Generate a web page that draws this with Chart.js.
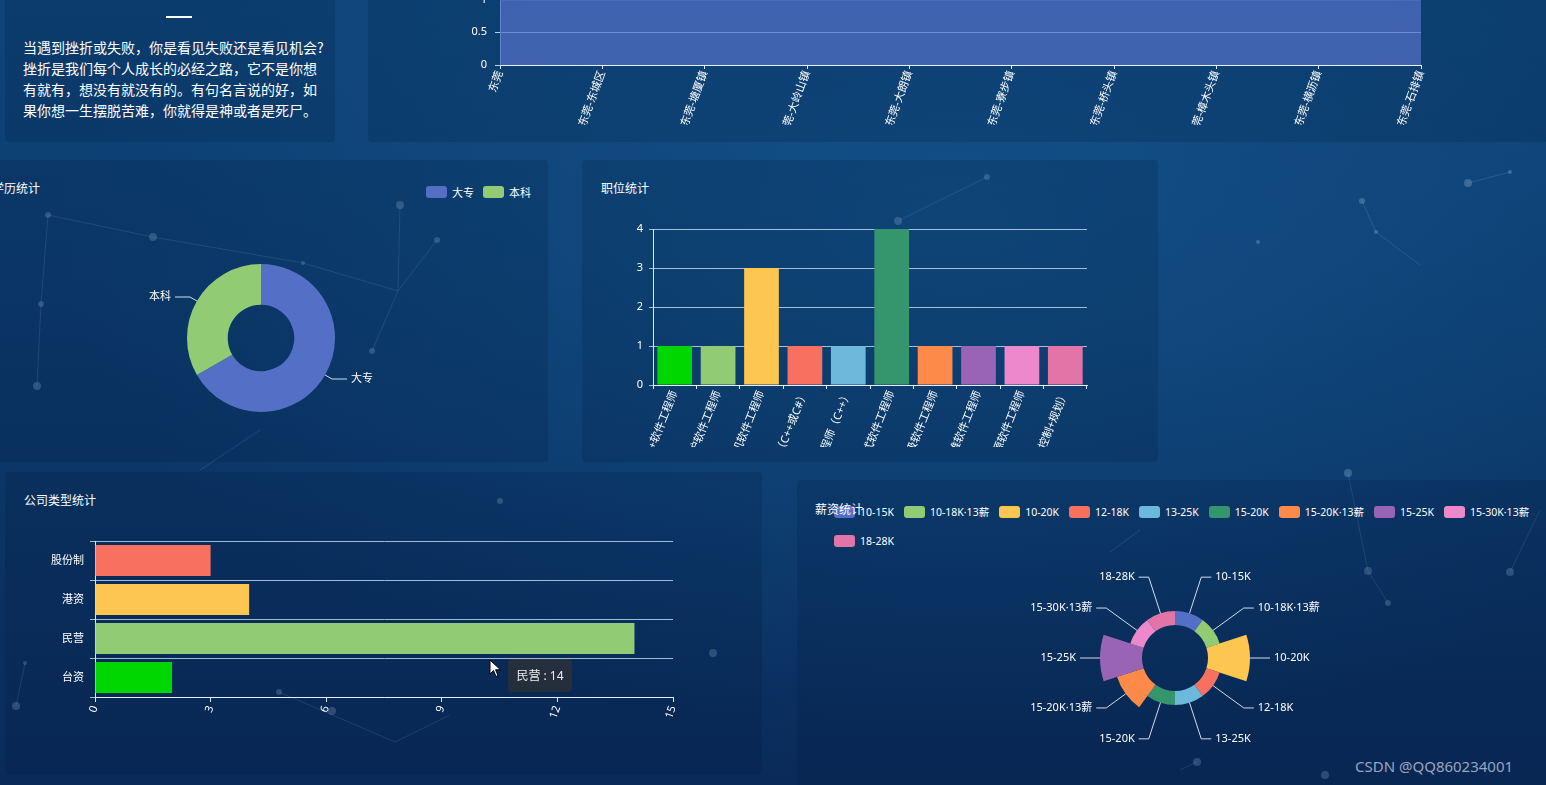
<!DOCTYPE html>
<html lang="zh-CN">
<head>
<meta charset="utf-8">
<title>招聘数据统计</title>
<script src="https://cdn.jsdelivr.net/npm/chart.js@4.4.1/dist/chart.umd.min.js"></script>
<style>
    html, body {
        margin: 0;
        padding: 0;
        width: 1546px;
        height: 785px;
        overflow: hidden;
    }
    body {
        position: relative;
        color: #fff;
        font-family: "Noto Sans", "Noto Sans CJK SC", sans-serif;
        background:
            radial-gradient(ellipse 900px 520px at 62% 28%, rgba(22, 92, 150, 0.55), rgba(22, 92, 150, 0) 100%),
            linear-gradient(180deg, #0e4479 0%, #0c3a6c 45%, #0a2b5a 100%);
    }
    .deco {
        position: absolute;
        left: 0;
        top: 0;
    }
    .panel {
        position: absolute;
        background: rgba(2, 18, 52, 0.16);
        border-radius: 4px;
    }
    .title {
        position: absolute;
        font-size: 12px;
        line-height: 16px;
        white-space: nowrap;
    }
    canvas {
        position: absolute;
    }
    .quote {
        position: absolute;
        left: 23px;
        top: 37px;
        font-family: "Noto Sans CJK SC", sans-serif;
        font-size: 14px;
        line-height: 21px;
        white-space: nowrap;
    }
    .quote-bar {
        position: absolute;
        left: 166px;
        top: 16px;
        width: 26px;
        height: 2px;
        background: #fff;
    }
    .legend {
        position: absolute;
        display: flex;
        flex-wrap: wrap;
        font-size: 11px;
    }
    .legend.narrow {
        font-size: 10.5px;
    }
    .lg-item {
        display: flex;
        align-items: center;
        height: 29px;
        margin-right: 10px;
        white-space: nowrap;
    }
    .lg-item i {
        display: inline-block;
        width: 21px;
        height: 12px;
        border-radius: 3px;
        margin-right: 5px;
    }
    .tip {
        position: absolute;
        left: 508px;
        top: 659px;
        width: 64px;
        height: 33px;
        line-height: 33px;
        text-align: center;
        font-size: 12px;
        color: #eee;
        background: rgba(50, 50, 50, 0.7);
        border-radius: 4px;
    }
    .cursor {
        position: absolute;
        left: 489px;
        top: 659px;
    }
    .watermark {
        position: absolute;
        left: 1355px;
        top: 756px;
        font-size: 15px;
        line-height: 20px;
        color: rgba(200, 210, 225, 0.75);
        white-space: nowrap;
    }
</style>
</head>
<body>

<!-- faint particle network in the backdrop -->
<svg class="deco" width="1546" height="785">
    <g stroke="rgba(150,190,230,0.18)" stroke-width="1">
        <line x1="48" y1="215" x2="153" y2="237"/>
        <line x1="153" y1="237" x2="303" y2="263"/>
        <line x1="41" y1="304" x2="37" y2="386"/>
        <line x1="48" y1="215" x2="41" y2="304"/>
        <line x1="400" y1="205" x2="398" y2="291"/>
        <line x1="398" y1="291" x2="372" y2="351"/>
        <line x1="303" y1="263" x2="398" y2="291"/>
        <line x1="437" y1="240" x2="398" y2="291"/>
        <line x1="1468" y1="183" x2="1510" y2="172"/>
        <line x1="1362" y1="201" x2="1376" y2="232"/>
        <line x1="1376" y1="232" x2="1420" y2="265"/>
        <line x1="987" y1="177" x2="898" y2="221"/>
        <line x1="1348" y1="473" x2="1368" y2="571"/>
        <line x1="1368" y1="571" x2="1388" y2="603"/>
        <line x1="1510" y1="572" x2="1540" y2="510"/>
        <line x1="279" y1="692" x2="395" y2="742"/>
        <line x1="395" y1="742" x2="450" y2="715"/>
        <line x1="16" y1="706" x2="25" y2="663"/>
        <line x1="200" y1="470" x2="260" y2="430"/>
        <line x1="1110" y1="552" x2="1140" y2="530"/>
        <line x1="1180" y1="770" x2="1197" y2="762"/>
    </g>
    <g fill="rgba(170,200,235,0.28)">
        <circle cx="48" cy="215" r="3"/>
        <circle cx="153" cy="237" r="4"/>
        <circle cx="41" cy="304" r="3"/>
        <circle cx="37" cy="386" r="4"/>
        <circle cx="400" cy="205" r="4"/>
        <circle cx="437" cy="240" r="3"/>
        <circle cx="372" cy="351" r="3"/>
        <circle cx="303" cy="263" r="2"/>
        <circle cx="1468" cy="183" r="4"/>
        <circle cx="1510" cy="172" r="2"/>
        <circle cx="1362" cy="201" r="3"/>
        <circle cx="1376" cy="232" r="2"/>
        <circle cx="1258" cy="242" r="2"/>
        <circle cx="987" cy="177" r="3"/>
        <circle cx="898" cy="221" r="4"/>
        <circle cx="1348" cy="473" r="4"/>
        <circle cx="1368" cy="571" r="4"/>
        <circle cx="1388" cy="603" r="3"/>
        <circle cx="1510" cy="572" r="4"/>
        <circle cx="1197" cy="762" r="4"/>
        <circle cx="500" cy="501" r="3"/>
        <circle cx="713" cy="653" r="4"/>
        <circle cx="332" cy="711" r="4"/>
        <circle cx="279" cy="692" r="3"/>
        <circle cx="16" cy="706" r="4"/>
        <circle cx="25" cy="663" r="2"/>
        <circle cx="1325" cy="775" r="4"/>
    </g>
</svg>

<!-- panels -->
<div class="panel" style="left:5px; top:-10px; width:330px; height:152px;"></div>
<div class="panel" style="left:368px; top:-10px; width:1190px; height:152px;"></div>
<div class="panel" style="left:-25px; top:160px; width:573px; height:302px;"></div>
<div class="panel" style="left:582px; top:160px; width:576px; height:302px;"></div>
<div class="panel" style="left:5px; top:472px; width:757px; height:303px;"></div>
<div class="panel" style="left:797px; top:480px; width:760px; height:310px;"></div>

<!-- quote -->
<div class="quote-bar"></div>
<div class="quote">
    当遇到挫折或失败，你是看见失败还是看见机会?<br>
    挫折是我们每个人成长的必经之路，它不是你想<br>
    有就有，想没有就没有的。有句名言说的好，如<br>
    果你想一生摆脱苦难，你就得是神或者是死尸。
</div>

<canvas id="areaChart" width="981" height="140" style="left:460px; top:-15px;"></canvas>

<div class="title" style="left:-8px; top:181px;">学历统计</div>
<div class="legend" id="eduLegend" style="left:426px; top:177px;"></div>
<canvas id="eduChart" width="300" height="200" style="left:111px; top:238px;"></canvas>

<div class="title" style="left:601px; top:181px;">职位统计</div>
<canvas id="jobChart" width="500" height="247" style="left:600px; top:200px;"></canvas>

<div class="title" style="left:24px; top:493px;">公司类型统计</div>
<canvas id="companyChart" width="673" height="239" style="left:20px; top:521px;"></canvas>
<div class="tip" id="companyTip"></div>
<svg class="cursor" width="14" height="20">
    <polygon points="1,1 1,15 4.5,11.5 7,17.5 9,16.6 6.6,10.8 11.5,10.8" fill="#fff" stroke="#000" stroke-width="1"/>
</svg>

<div class="legend narrow" id="salaryLegend" style="left:834px; top:497px; width:745px;"></div>
<div class="title" style="left:815px; top:502px;">薪资统计</div>
<canvas id="salaryChart" width="350" height="200" style="left:1000px; top:558px;"></canvas>

<div class="watermark">CSDN @QQ860234001</div>

<script>
// ---------- data ----------
var areaNames = ['东莞', '东莞-东城区', '东莞-塘厦镇', '东莞-大岭山镇', '东莞-大朗镇',
                 '东莞-寮步镇', '东莞-桥头镇', '东莞-樟木头镇', '东莞-横沥镇', '东莞-石排镇'];
var areaCounts = [1, 1, 1, 1, 1, 1, 1, 1, 1, 1];
var areaTicks = [0, 0.5, 1];

var eduNames = ['大专', '本科'];
var eduCounts = [2, 1];

var jobNames = ['+软件工程师', '护软件工程师', '机软件工程师', '（C++或C#）', '程师（C++）',
                '式软件工程师', '级软件工程师', '维软件工程师', '源软件工程师', '控制+规划）'];
var jobCounts = [1, 1, 3, 1, 1, 4, 1, 1, 1, 1];
var jobTicks = [0, 1, 2, 3, 4];

var companyTypes = ['台资', '民营', '港资', '股份制'];
var companyCounts = [2, 14, 4, 3];
var companyTicks = [0, 3, 6, 9, 12, 15];
var hoverIndex = 1;

var salaryRanges = ['10-15K', '10-18K·13薪', '10-20K', '12-18K', '13-25K',
                    '15-20K', '15-20K·13薪', '15-25K', '15-30K·13薪', '18-28K'];
var salaryCounts = [1, 1, 3, 1, 1, 1, 2, 3, 1, 1];

var palette = ['#00d600', '#91cc75', '#fcc650', '#f87060', '#6cb9dc',
               '#35956c', '#fd8a48', '#9a64b4', '#ee88cc', '#e274a8'];
var blue = '#5470c6';

// ---------- defaults ----------
var fontStack = '"Noto Sans", "Noto Sans CJK SC", sans-serif';
Chart.defaults.color = '#fff';
Chart.defaults.font.family = fontStack;
Chart.defaults.font.size = 11;
Chart.defaults.animation = false;
Chart.defaults.plugins.legend.display = false;
Chart.defaults.plugins.tooltip.enabled = false;

var axisWhite = 'rgba(235, 242, 255, 0.95)';
var gridWhite = 'rgba(200, 222, 245, 0.8)';

function fixedTicks(values) {
    return function(scale) {
        scale.ticks = values.map(function(v) { return { value: v }; });
    };
}

function plainNumber(value) {
    return String(value);
}

// html legend built from the chart's own legend items
var htmlLegend = {
    id: 'htmlLegend',
    afterUpdate: function(chart, args, opts) {
        var box = document.getElementById(opts.containerID);
        if (!box) return;
        box.innerHTML = '';
        var items = chart.options.plugins.legend.labels.generateLabels(chart);
        items.forEach(function(item) {
            var li = document.createElement('span');
            li.className = 'lg-item';
            if (opts.gap !== undefined) li.style.marginRight = opts.gap + 'px';
            var sw = document.createElement('i');
            sw.style.background = item.fillStyle;
            var tx = document.createElement('span');
            tx.textContent = item.text;
            li.appendChild(sw);
            li.appendChild(tx);
            box.appendChild(li);
        });
    }
};

// label + leader line outside each slice
var sliceLabels = {
    id: 'sliceLabels',
    afterDatasetsDraw: function(chart, args, opts) {
        var ctx = chart.ctx;
        var meta = chart.getDatasetMeta(0);
        var names = chart.data.labels;
        var maxR = Math.max.apply(null, meta.data.map(function(a) { return a.outerRadius; }));
        ctx.save();
        ctx.font = '11px ' + fontStack;
        ctx.fillStyle = '#fff';
        ctx.strokeStyle = 'rgba(235, 240, 250, 0.9)';
        ctx.lineWidth = 1;
        ctx.textBaseline = 'middle';
        meta.data.forEach(function(arc, i) {
            var mid = (arc.startAngle + arc.endAngle) / 2;
            var c = Math.cos(mid), s = Math.sin(mid);
            var r2 = (opts.fromMax ? maxR : arc.outerRadius) + opts.len1;
            var x1 = arc.x + c * arc.outerRadius, y1 = arc.y + s * arc.outerRadius;
            var x2 = arc.x + c * r2, y2 = arc.y + s * r2;
            var dir = c >= 0 ? 1 : -1;
            var x3 = x2 + dir * opts.len2;
            ctx.beginPath();
            ctx.moveTo(x1, y1);
            ctx.lineTo(x2, y2);
            ctx.lineTo(x3, y2);
            ctx.stroke();
            ctx.textAlign = dir > 0 ? 'left' : 'right';
            ctx.fillText(names[i], x3 + dir * 4, y2);
        });
        ctx.restore();
    }
};

// rose chart with a hole in the middle
var roseHole = {
    id: 'roseHole',
    afterDatasetsUpdate: function(chart) {
        var hole = chart.scales.r.getDistanceFromCenterForValue(0);
        chart.getDatasetMeta(0).data.forEach(function(arc) {
            arc.innerRadius = hole;
        });
    }
};

// ---------- area chart (top) ----------
new Chart(document.getElementById('areaChart'), {
    type: 'line',
    data: {
        labels: areaNames,
        datasets: [{
            data: areaCounts,
            borderColor: blue,
            borderWidth: 2,
            backgroundColor: 'rgba(84, 112, 198, 0.72)',
            fill: 'origin',
            pointRadius: 0
        }]
    },
    options: {
        responsive: false,
        layout: { padding: { top: 10, right: 20 } },
        scales: {
            x: {
                ticks: { autoSkip: false, minRotation: 70, maxRotation: 70, padding: 0 },
                grid: { drawOnChartArea: false, color: axisWhite, tickLength: 4 },
                border: { color: axisWhite },
                afterFit: function(scale) { scale.height = 60; }
            },
            y: {
                min: 0,
                max: 1,
                afterBuildTicks: fixedTicks(areaTicks),
                ticks: { padding: 8, callback: plainNumber },
                grid: { color: 'rgb(170, 212, 255)', tickLength: 5 },
                border: { color: 'rgba(170, 200, 250, 0.8)' },
                afterFit: function(scale) { scale.width = 40; }
            }
        }
    }
});

// ---------- education doughnut ----------
new Chart(document.getElementById('eduChart'), {
    type: 'doughnut',
    data: {
        labels: eduNames,
        datasets: [{
            data: eduCounts,
            backgroundColor: [blue, palette[1]],
            borderWidth: 0
        }]
    },
    options: {
        responsive: false,
        cutout: '45%',
        layout: { padding: { left: 76, right: 76, top: 26, bottom: 26 } },
        plugins: {
            htmlLegend: { containerID: 'eduLegend', gap: 9 },
            sliceLabels: { len1: 8, len2: 15, fromMax: false }
        }
    },
    plugins: [htmlLegend, sliceLabels]
});

// ---------- job bar chart ----------
new Chart(document.getElementById('jobChart'), {
    type: 'bar',
    data: {
        labels: jobNames,
        datasets: [{
            data: jobCounts,
            backgroundColor: palette,
            categoryPercentage: 0.8,
            barPercentage: 1
        }]
    },
    options: {
        responsive: false,
        layout: { padding: { top: 29, right: 13 } },
        scales: {
            x: {
                ticks: { autoSkip: false, minRotation: 68, maxRotation: 68, padding: 0 },
                grid: { offset: true, drawOnChartArea: false, color: axisWhite, tickLength: 4 },
                border: { color: axisWhite },
                afterFit: function(scale) { scale.height = 62; }
            },
            y: {
                min: 0,
                max: 4,
                afterBuildTicks: fixedTicks(jobTicks),
                ticks: { padding: 6 },
                grid: { color: gridWhite, tickLength: 4 },
                border: { color: axisWhite },
                afterFit: function(scale) { scale.width = 53; }
            }
        }
    }
});

// ---------- company type horizontal bars ----------
new Chart(document.getElementById('companyChart'), {
    type: 'bar',
    data: {
        labels: companyTypes,
        datasets: [{
            data: companyCounts,
            backgroundColor: palette.slice(0, companyTypes.length),
            categoryPercentage: 0.8,
            barPercentage: 1
        }]
    },
    options: {
        responsive: false,
        indexAxis: 'y',
        layout: { padding: { top: 20, right: 20 } },
        scales: {
            x: {
                min: 0,
                max: 15,
                afterBuildTicks: fixedTicks(companyTicks),
                ticks: { minRotation: 70, maxRotation: 70, padding: 2 },
                grid: { drawOnChartArea: false, color: axisWhite, tickLength: 5 },
                border: { color: axisWhite },
                afterFit: function(scale) { scale.height = 63; }
            },
            y: {
                reverse: true,
                ticks: { padding: 6 },
                grid: { offset: true, color: gridWhite, tickLength: 5 },
                border: { color: axisWhite },
                afterFit: function(scale) { scale.width = 75; }
            }
        }
    }
});
document.getElementById('companyTip').textContent =
    companyTypes[hoverIndex] + ' : ' + companyCounts[hoverIndex];

// ---------- salary rose ----------
var salaryColors = [blue].concat(palette.slice(1));
new Chart(document.getElementById('salaryChart'), {
    type: 'polarArea',
    data: {
        labels: salaryRanges,
        datasets: [{
            data: salaryCounts,
            backgroundColor: salaryColors,
            borderWidth: 0
        }]
    },
    options: {
        responsive: false,
        layout: { padding: { left: 100, right: 100, top: 25, bottom: 25 } },
        scales: {
            r: { display: false, min: -2.36, max: 3 }
        },
        plugins: {
            htmlLegend: { containerID: 'salaryLegend', gap: 10 },
            sliceLabels: { len1: 10, len2: 10, fromMax: true }
        }
    },
    plugins: [htmlLegend, roseHole, sliceLabels]
});
</script>
</body>
</html>
